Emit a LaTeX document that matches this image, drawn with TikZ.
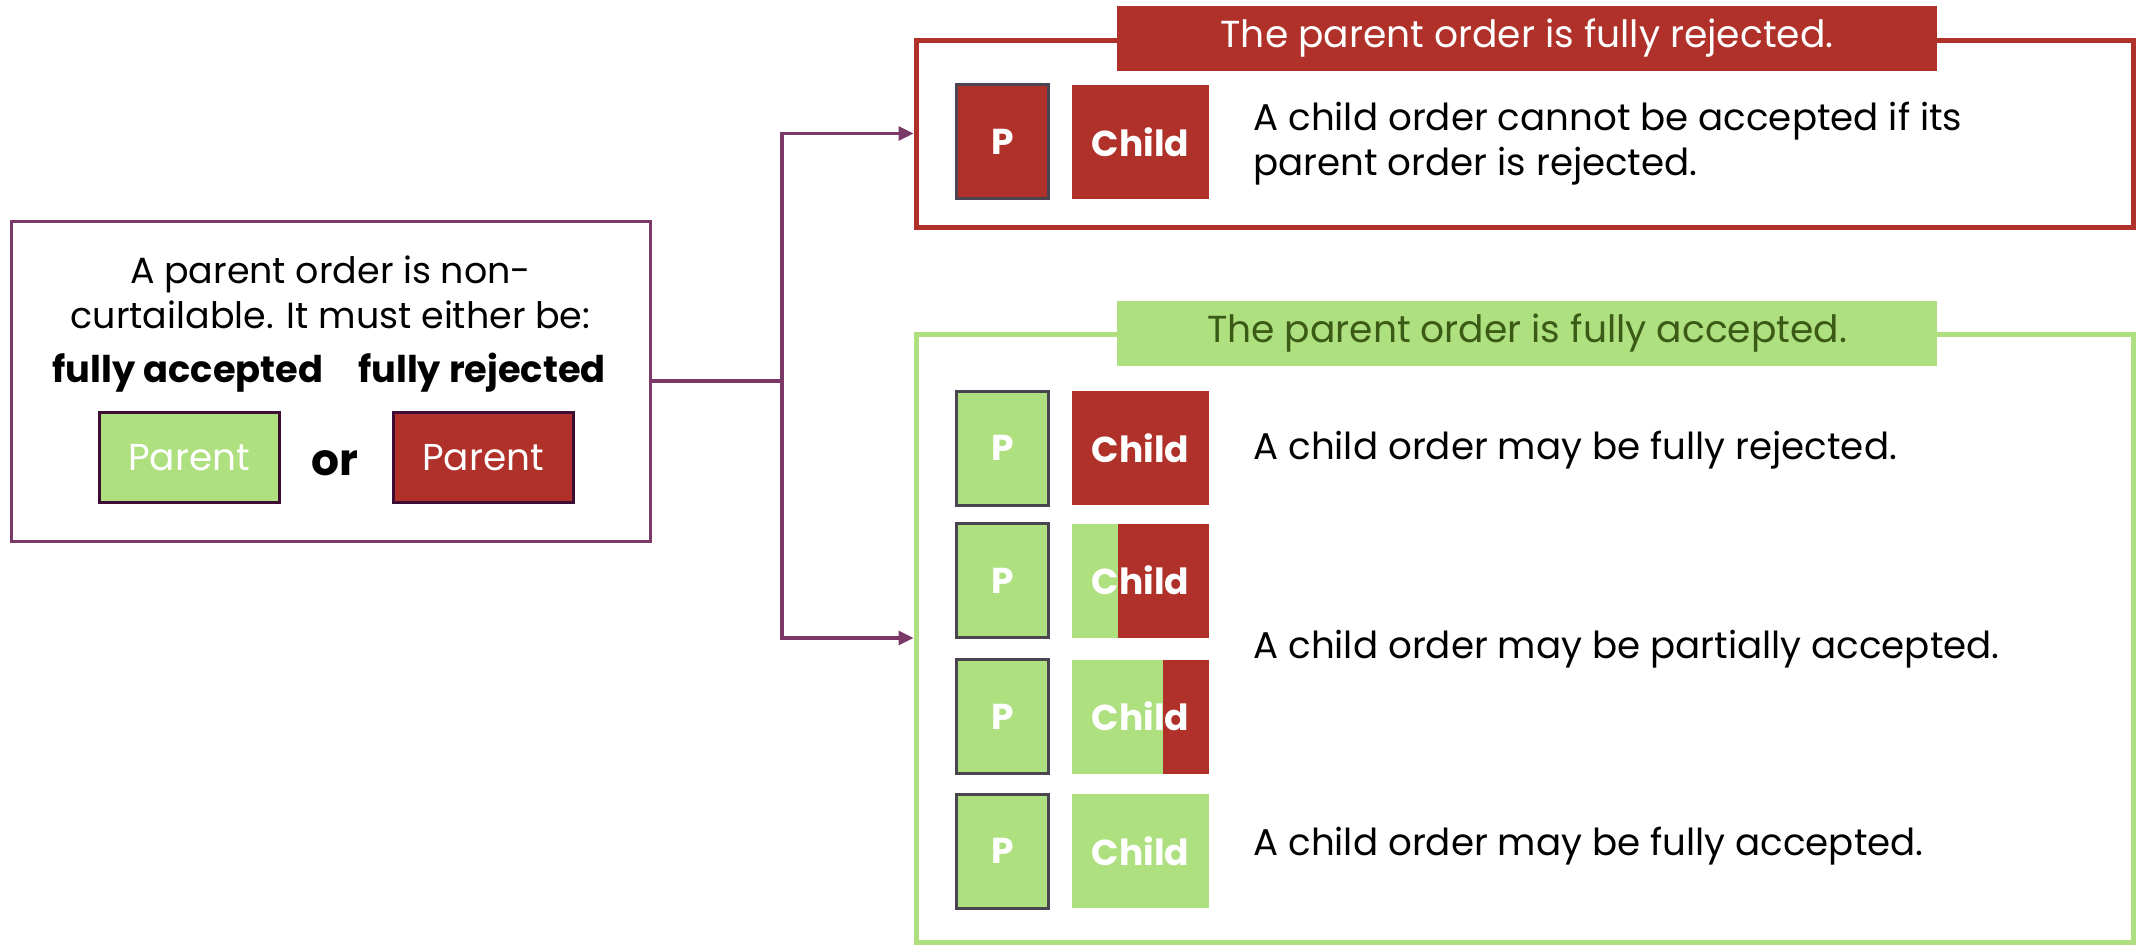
\documentclass[tikz,border=0pt]{standalone}
\usepackage{fontspec}
\setmainfont{Poppins}
\usetikzlibrary{arrows.meta}
\definecolor{cpurple}{RGB}{123,57,104}
\definecolor{cred}{RGB}{176,49,41}
\definecolor{cgreen}{RGB}{174,224,128}
\definecolor{cdkgreen}{RGB}{58,90,22}
\definecolor{cpborder}{RGB}{61,13,51}
\definecolor{cgrey}{RGB}{74,69,80}
\tikzset{
  body/.style={font=\fontsize{18.6}{22.5}\selectfont, inner sep=0pt},
  boldlbl/.style={font=\fontsize{18.4}{22}\selectfont\bfseries, inner sep=0pt},
  parentbox/.style={draw=cpborder, line width=1.5pt, minimum width=90pt, minimum height=45pt, inner sep=0pt, text=white, font=\fontsize{18.7}{20}\selectfont},
  pbox/.style={draw=cgrey, line width=1.5pt, minimum width=46pt, minimum height=57pt, inner sep=0pt, text=white, font=\fontsize{18}{20}\selectfont\bfseries},
  childbox/.style={minimum width=68.5pt, minimum height=57pt, inner sep=0pt, text=white, font=\fontsize{18}{20}\selectfont\bfseries},
  bigbox/.style={line width=2.5pt, minimum width=608.5pt, inner sep=0pt},
  banner/.style={minimum width=410pt, minimum height=32.5pt, inner sep=0pt, font=\fontsize{18.8}{20}\selectfont},
  conn/.style={draw=cpurple, line width=1.6pt},
  arr/.style={conn, -{Triangle[length=7.5pt,width=7pt]}},
}
\begin{document}
\begin{tikzpicture}[x=0.5pt,y=-0.5pt]
\useasboundingbox (0,0) rectangle (2136,944);
% left box
\node[draw=cpurple, line width=1.5pt, minimum width=319.5pt, minimum height=160pt, inner sep=0pt] (left) at (330.5,381) {};
\node[body, align=center, font=\fontsize{18.2}{22.5}\selectfont] (intro) at (330.5,292) {A parent order is non-\\curtailable. It must either be:};
\node[boldlbl] (fa) at (188,373) {fully accepted};
\node[boldlbl] (fr) at (482,373) {fully rejected};
\node[parentbox, fill=cgreen] (pg) at (189,457.5) {Parent};
\node[parentbox, fill=cred] (pr) at (483,457.5) {Parent};
\node[inner sep=0pt, font=\fontsize{22}{24}\selectfont\bfseries] (or) at (335,463) {or};
% right boxes
\node[bigbox, draw=cred, minimum height=93.5pt] (redbox) at (1524.5,133.5) {};
\node[bigbox, draw=cgreen, minimum height=304pt] (greenbox) at (1524.5,638) {};
\node[banner, fill=cred, text=white] (rtitle) at (1527,38.5) {The parent order is fully rejected.};
\node[banner, fill=cgreen, text=cdkgreen] (gtitle) at (1527,333.5) {The parent order is fully accepted.};
% connectors
\coordinate (j) at (782,381);
\draw[conn] (left.east) -- (j);
\draw[arr] (j) |- (redbox.west);
\draw[arr] (j) |- (greenbox.west);
% red row
\node[pbox, fill=cred] (p0) at (1002.5,141.5) {P};
\node[childbox, fill=cred] (c0) at (1140.5,142) {Child};
\node[body, anchor=west, align=left] (t0) at (1253,144) {A child order cannot be accepted if its\\parent order is rejected.};
% green rows
\node[pbox, fill=cgreen] (p1) at (1002.5,448) {P};
\node[childbox, fill=cred] (c1) at (1140.5,448) {Child};
\node[body, anchor=west] (t1) at (1253,450) {A child order may be fully rejected.};
\node[pbox, fill=cgreen] (p2) at (1002.5,580.5) {P};
\node[childbox, fill=cgreen, path picture={\fill[cred] ([xshift=23pt]path picture bounding box.north west) rectangle (path picture bounding box.south east);}] (c2) at (1140.5,580.5) {Child};
\node[pbox, fill=cgreen] (p3) at (1002.5,716.5) {P};
\node[childbox, fill=cgreen, path picture={\fill[cred] ([xshift=45.5pt]path picture bounding box.north west) rectangle (path picture bounding box.south east);}] (c3) at (1140.5,716.5) {Child};
\node[body, anchor=west] (t2) at (1253,649) {A child order may be partially accepted.};
\node[pbox, fill=cgreen] (p4) at (1002.5,851) {P};
\node[childbox, fill=cgreen] (c4) at (1140.5,851) {Child};
\node[body, anchor=west] (t4) at (1253,846) {A child order may be fully accepted.};
\end{tikzpicture}
\end{document}
